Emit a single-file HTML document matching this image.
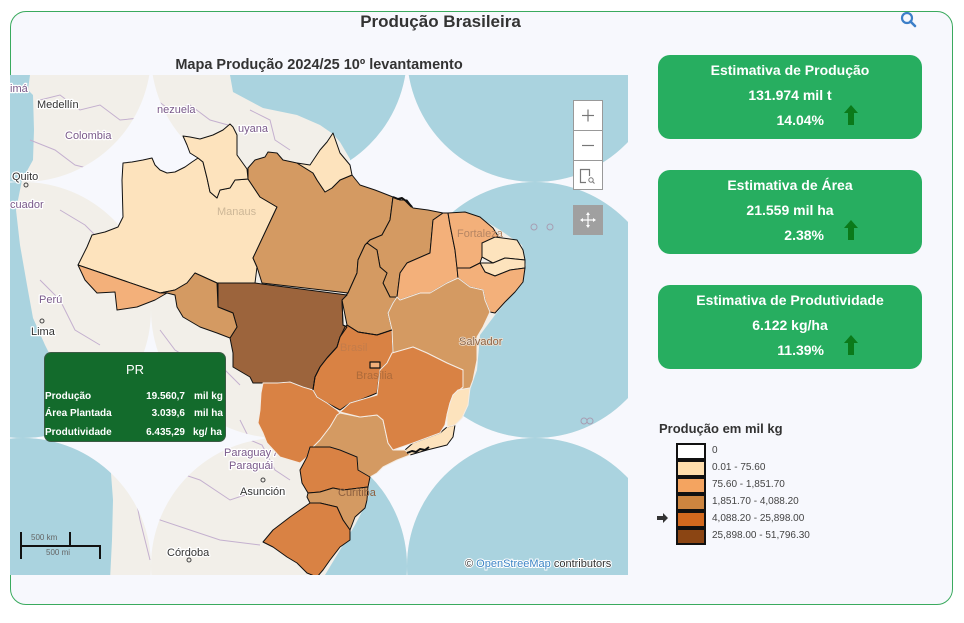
<!DOCTYPE html>
<html><head><meta charset="utf-8">
<style>
html,body{margin:0;padding:0;background:#fff;width:964px;height:623px;overflow:hidden;font-family:"Liberation Sans",sans-serif;}
.abs{position:absolute;}
#frame{position:absolute;left:10px;top:11px;width:941px;height:592px;border:1px solid #3aaa5e;border-radius:16px;background:#f7f8fd;}
.card{position:absolute;left:658px;width:264px;height:84px;background:#27ae60;border-radius:12px;color:#fff;font-weight:bold;font-size:14px;}
.card div{position:absolute;left:0;width:264px;text-align:center;line-height:18px;white-space:nowrap;}
.card .pct{left:0;width:166px;text-align:right;}
.card svg{position:absolute;left:185px;}
.lg{position:absolute;left:676px;width:26px;height:13px;border:2px solid #111;}
.lt{position:absolute;left:712px;font-size:10px;color:#444;line-height:12px;white-space:nowrap;}
.tt{position:absolute;font-size:10px;font-weight:bold;color:#fff;line-height:12px;white-space:nowrap;}
</style></head><body>
<div id="frame"></div>
<div class="abs" style="left:0;top:12px;width:881px;text-align:center;font-size:17px;font-weight:bold;color:#333;line-height:20px;">Produção Brasileira</div>
<svg class="abs" style="left:898px;top:10px" width="22" height="22" viewBox="0 0 22 22"><circle cx="9" cy="8" r="5" fill="none" stroke="#3c7fc8" stroke-width="2.2"/><line x1="12.5" y1="11.5" x2="17" y2="16" stroke="#3c7fc8" stroke-width="2.6" stroke-linecap="round"/></svg>
<div class="abs" style="left:0;top:56px;width:638px;text-align:center;font-size:14.5px;font-weight:bold;color:#333;line-height:18px;">Mapa Produção 2024/25 10º levantamento</div>

<svg class="abs" style="left:10px;top:75px" width="618" height="500" viewBox="10 75 618 500">
<defs>
<clipPath id="tiles">
<circle cx="23" cy="54" r="128"/><circle cx="279" cy="54" r="128"/><circle cx="535" cy="54" r="128"/>
<circle cx="23" cy="310" r="128"/><circle cx="279" cy="310" r="128"/><circle cx="535" cy="310" r="128"/>
<circle cx="23" cy="566" r="128"/><circle cx="279" cy="566" r="128"/><circle cx="535" cy="566" r="128"/>
</clipPath>
</defs>
<rect x="10" y="75" width="618" height="500" fill="#f7f8fd"/>
<g clip-path="url(#tiles)">
<rect x="10" y="75" width="618" height="500" fill="#f2efe9"/>
<polygon fill="#aad3df" points="230,70 230,75 233,92 263,108 297,115 320,125 333,134 340,142 350,159 352,175 360,186 375,191 393,197 443,213 480,218 500,230 522,245 526,265 520,285 495,315 480,335 477,370 470,390 455,425 445,445 410,455 385,465 370,478 368,500 355,525 340,550 322,580 640,580 640,70"/>
<polygon fill="#aad3df" points="5,70 30,75 28,90 33,95 34,130 33,160 22,180 16,210 20,245 27,285 33,318 45,345 60,375 80,405 98,432 110,460 113,500 112,540 110,580 5,580"/>
<g fill="none" stroke="#c4b0cf" stroke-width="1">
<polyline points="40,100 60,95 80,110 100,105 120,120 140,118"/>
<polyline points="30,140 55,150 75,165 95,170 120,160"/>
<polyline points="150,95 170,110 190,105 210,120 228,125"/>
<polyline points="60,210 85,225 100,240 95,260 110,275"/>
<polyline points="40,280 60,300 75,330 100,345"/>
<polyline points="160,330 175,350 200,365 225,370 240,385"/>
<polyline points="150,450 170,470 200,480 230,500 260,490"/>
<polyline points="140,500 160,520 190,530 220,540 260,545"/>
<polyline points="130,470 140,520 150,560"/>
<polyline points="250,110 270,120 275,140 290,150"/>
<polyline points="240,420 250,440 262,445 275,470 290,480"/>
</g>
<circle cx="534" cy="227" r="3" fill="none" stroke="#a79db2" stroke-width="1"/>
<circle cx="550" cy="227" r="3" fill="none" stroke="#a79db2" stroke-width="1"/>
<circle cx="584" cy="421" r="3" fill="none" stroke="#a79db2" stroke-width="1"/>
<circle cx="590" cy="421" r="3" fill="none" stroke="#a79db2" stroke-width="1"/>
</g>

<g font-family="Liberation Sans, sans-serif" font-size="11" stroke="#fff" stroke-width="2.5" paint-order="stroke" stroke-linejoin="round">
<text x="10" y="92" fill="#7a5a8a">imá</text>
<text x="37" y="108" fill="#333">Medellín</text>
<text x="157" y="113" fill="#7a5a8a">nezuela</text>
<text x="65" y="139" fill="#7a5a8a">Colombia</text>
<text x="238" y="132" fill="#7a5a8a">uyana</text>
<text x="12" y="180" fill="#333">Quito</text>
<text x="10" y="208" fill="#7a5a8a">cuador</text>
<text x="39" y="303" fill="#7a5a8a">Perú</text>
<text x="31" y="335" fill="#333">Lima</text>
<text x="224" y="456" fill="#7a5a8a">Paraguay /</text>
<text x="229" y="469" fill="#7a5a8a">Paraguái</text>
<text x="240" y="495" fill="#333">Asunción</text>
<text x="167" y="556" fill="#333">Córdoba</text>
</g>
<g fill="none" stroke="#444" stroke-width="1">
<circle cx="26" cy="185" r="2"/><circle cx="42" cy="321" r="2"/><circle cx="263" cy="480" r="2"/><circle cx="189" cy="560" r="2"/>
</g>

<g stroke="#111" stroke-width="1" stroke-linejoin="round">
<polygon fill="#fde3bd" points="123,163 132,162 143,160 152,158 155,165 160,170 167,173 175,172 185,167 192,162 198,158 203,162 207,178 210,192 217,198 220,190 230,188 235,180 248,179 260,197 277,207 253,258 257,267 255,283 217,283 195,273 187,283 175,290 160,293 78,265 87,247 92,235 105,232 118,227 123,217 122,180"/>
<polygon fill="#fde3bd" points="183,136 190,137 200,139 213,135 223,130 230,124 233,127 237,135 237,155 247,169 248,179 235,180 230,188 220,190 217,198 210,192 207,178 203,162 198,158 190,153 187,145"/>
<polygon fill="#d49a62" points="248,179 248,168 255,160 265,157 268,152 277,153 283,160 297,163 313,173 317,180 325,192 332,188 340,180 352,175 360,185 375,190 393,197 390,220 382,235 370,240 365,245 358,260 357,273 348,293 262,283 257,267 253,258 277,207 260,197"/>
<polygon fill="#fde3bd" points="297,163 310,165 320,150 327,142 333,133 340,153 350,165 352,175 340,180 332,188 325,192 317,180 313,173"/>
<polygon fill="#d49a62" points="393,197 400,200 407,200 413,208 428,210 443,213 433,220 430,253 407,263 400,273 397,297 390,297 383,283 387,273 380,267 377,250 367,243 370,240 382,235 390,220"/>
<polygon fill="#d49a62" points="367,243 377,250 380,267 387,273 383,283 390,297 397,297 393,303 388,313 392,330 377,335 358,332 347,325 342,300 348,293 357,273 358,260 365,245"/>
<polygon fill="#f3b07a" points="443,213 448,213 450,225 455,250 457,267 458,278 447,283 430,293 420,293 400,300 397,297 400,273 407,263 430,253 433,220"/>
<polygon fill="#f3b07a" points="448,213 465,212 480,217 493,228 498,236 490,244 482,243 482,257 480,263 470,268 457,268 455,250 450,225"/>
<polygon fill="#fde3bd" points="482,243 495,237 517,240 523,250 525,260 505,258 493,263 482,257"/>
<polygon fill="#fde3bd" points="480,263 493,263 505,258 525,260 525,268 510,270 495,276 485,272"/>
<polygon fill="#f3b07a" points="457,268 470,268 480,263 485,272 495,276 510,270 525,268 523,282 515,292 505,302 495,313 490,312 485,300 483,290 470,287 458,278"/>
<polygon fill="#9c643c" points="218,283 255,283 262,284 347,295 342,300 343,325 347,327 340,337 337,347 327,358 320,367 315,377 313,390 303,387 290,382 277,383 263,383 253,383 250,377 233,367 233,353 230,338 237,327 233,313 218,307"/>
<polygon fill="#d49a62" points="160,293 175,290 187,283 195,273 217,283 218,307 233,313 237,327 230,338 217,333 200,327 183,317 177,307 175,295 167,293"/>
<polygon fill="#f3b07a" points="78,265 160,293 167,293 155,300 137,307 117,310 115,292 97,293 85,280"/>
<polygon fill="#d98244" points="347,325 358,332 377,335 392,330 393,353 387,363 380,370 377,393 360,400 350,403 340,410 327,403 317,397 313,390 315,377 320,367 327,358 337,347 340,337 345,327"/>
<polygon fill="#fde3bd" points="413,443 440,433 447,427 455,425 453,437 447,445 427,450 410,455 405,450"/>
</g>
<g stroke="#f4ece4" stroke-width="1" stroke-linejoin="round">
<polygon fill="#d49a62" points="397,297 400,300 420,293 430,293 447,283 458,278 470,287 483,290 485,300 490,312 483,327 477,337 477,360 473,380 470,388 458,390 453,395 463,387 463,370 447,363 427,353 413,347 393,353 392,330 388,313 393,303"/>
<polygon fill="#d98244" points="263,383 277,383 290,382 303,387 313,390 317,397 327,403 337,410 340,413 330,427 320,440 313,447 310,447 307,457 300,463 290,460 280,457 267,443 263,433 258,423 260,410 261,393"/>
<polygon fill="#d49a62" points="340,413 360,417 377,415 383,420 388,443 393,450 405,450 410,455 397,460 383,467 377,473 370,477 358,470 357,457 340,450 330,447 313,447 320,440 330,427 337,415"/>
<polygon fill="#d98244" points="340,412 350,403 377,395 380,370 387,363 392,353 413,347 427,353 447,363 463,370 463,387 453,395 450,403 447,415 445,425 440,433 413,443 393,450 388,443 383,420 377,415 360,417"/>
<polygon fill="#fde3bd" points="458,390 470,388 468,405 462,418 455,425 447,427 447,415 450,403 453,395"/>
</g>
<g stroke="#111" stroke-width="1" stroke-linejoin="round">
<polygon fill="#d98244" points="310,447 313,447 330,447 340,450 357,457 358,470 370,477 368,487 343,490 333,488 320,492 308,493 302,483 300,470 307,457"/>
<polygon fill="#d49a62" points="308,493 320,492 333,488 343,490 368,487 367,500 365,508 355,517 350,530 343,520 337,507 320,503 310,503 307,497"/>
<polygon fill="#d98244" points="310,503 320,503 337,507 343,520 350,530 350,540 340,547 330,560 323,570 317,577 307,573 297,563 287,557 273,547 263,542 273,530 290,517 300,510"/>
<rect x="370" y="362" width="10" height="6" fill="#f3b07a" stroke-width="1.2"/>
<polyline fill="none" stroke-width="2" points="393,197 398,199 402,198 406,201 409,204 412,207"/>
<polyline fill="none" stroke-width="2" points="407,453 412,451 416,452 420,449 425,450 429,447"/>
<polyline fill="none" stroke-width="1" points="347,325 358,332 377,335 392,330"/>
<polyline fill="none" stroke-width="1" points="342,300 343,325 347,327 340,337 337,347 327,358 320,367 315,377 313,390"/>
</g>

<g font-family="Liberation Sans, sans-serif" font-size="11">
<text x="217" y="215" fill="#cdb797">Manaus</text>
<text x="457" y="237" fill="#b58563">Fortaleza</text>
<text x="459" y="345" fill="#8b6548" stroke="#f0e0d0" stroke-width="1.5" paint-order="stroke">Salvador</text>
<text x="340" y="351" fill="#c47c4a">Brasil</text>
<text x="356" y="379" fill="#ad6a3a">Brasília</text>
<text x="338" y="496" fill="#8e6040">Curitiba</text>
</g>

<g stroke="#111" stroke-width="2" fill="none">
<line x1="21" y1="532" x2="21" y2="559"/>
<line x1="20" y1="546" x2="101" y2="546"/>
<line x1="70" y1="532" x2="70" y2="546"/>
<line x1="100" y1="546" x2="100" y2="559"/>
</g>
<text x="31" y="540" font-family="Liberation Sans, sans-serif" font-size="8" fill="#666">500 km</text>
<text x="46" y="555" font-family="Liberation Sans, sans-serif" font-size="8" fill="#666">500 mi</text>
<text x="465" y="567" font-family="Liberation Sans, sans-serif" font-size="11" fill="#333" stroke="#fff" stroke-width="2" paint-order="stroke">© <tspan fill="#3d85c6">OpenStreeMap</tspan> contributors</text>

<rect x="573.5" y="100.5" width="29" height="89" fill="#fff" stroke="#999"/>
<line x1="573.5" y1="130.5" x2="602.5" y2="130.5" stroke="#999"/>
<line x1="573.5" y1="160.5" x2="602.5" y2="160.5" stroke="#999"/>
<g stroke="#777" stroke-width="1.2">
<line x1="582" y1="115.5" x2="594" y2="115.5"/><line x1="588" y1="109.5" x2="588" y2="121.5"/>
<line x1="582" y1="145.5" x2="594" y2="145.5"/>
</g>
<path d="M586 182.5 H580.5 V169.5 H589.5 V176" fill="none" stroke="#777" stroke-width="1.2"/>
<circle cx="591" cy="180" r="2.2" fill="none" stroke="#777" stroke-width="1"/>
<line x1="592.6" y1="181.6" x2="594.5" y2="183.5" stroke="#777" stroke-width="1"/>
<rect x="573" y="205" width="30" height="30" fill="#a0a0a0"/>
<g stroke="#fff" stroke-width="1.2" fill="#fff">
<line x1="582" y1="220" x2="594" y2="220"/><line x1="588" y1="214" x2="588" y2="226"/>
<polygon points="588,212 586,215 590,215" stroke="none"/><polygon points="588,228 586,225 590,225" stroke="none"/>
<polygon points="580,220 583,218 583,222" stroke="none"/><polygon points="596,220 593,218 593,222" stroke="none"/>
</g>
</svg>

<div class="abs" style="left:45px;top:353px;width:180px;height:88px;background:#136b2c;border-radius:6px;box-shadow:0 0 0 1px #3b5a44;"></div>
<div class="abs" style="left:45px;top:362px;width:180px;text-align:center;color:#fff;font-size:13px;line-height:16px;">PR</div>
<div class="tt" style="left:45px;top:391px;">Produção</div>
<div class="tt" style="left:45px;top:408px;">Área Plantada</div>
<div class="tt" style="left:45px;top:427px;">Produtividade</div>
<div class="tt" style="left:105px;width:80px;text-align:right;top:391px;">19.560,7</div>
<div class="tt" style="left:105px;width:80px;text-align:right;top:408px;">3.039,6</div>
<div class="tt" style="left:105px;width:80px;text-align:right;top:427px;">6.435,29</div>
<div class="tt" style="left:194px;top:391px;">mil kg</div>
<div class="tt" style="left:194px;top:408px;">mil ha</div>
<div class="tt" style="left:193px;top:427px;">kg/ ha</div>

<div class="card" style="top:55px;">
<div style="top:6px;">Estimativa de Produção</div>
<div style="top:31px;">131.974 mil t</div>
<div class="pct" style="top:56px;">14.04%</div>
<svg style="top:50px" width="16" height="21" viewBox="0 0 16 21"><polygon points="8,0 15,8 11,8 11,20 5,20 5,8 1,8" fill="#0b7a1a"/></svg>
</div>
<div class="card" style="top:170px;">
<div style="top:6px;">Estimativa de Área</div>
<div style="top:31px;">21.559 mil ha</div>
<div class="pct" style="top:56px;">2.38%</div>
<svg style="top:50px" width="16" height="21" viewBox="0 0 16 21"><polygon points="8,0 15,8 11,8 11,20 5,20 5,8 1,8" fill="#0b7a1a"/></svg>
</div>
<div class="card" style="top:285px;">
<div style="top:6px;">Estimativa de Produtividade</div>
<div style="top:31px;">6.122 kg/ha</div>
<div class="pct" style="top:56px;">11.39%</div>
<svg style="top:50px" width="16" height="21" viewBox="0 0 16 21"><polygon points="8,0 15,8 11,8 11,20 5,20 5,8 1,8" fill="#0b7a1a"/></svg>
</div>

<div class="abs" style="left:659px;top:420px;font-size:13px;font-weight:bold;color:#333;line-height:18px;white-space:nowrap;">Produção em mil kg</div>
<div class="lg" style="top:443px;background:#ffffff;"></div>
<div class="lg" style="top:460px;background:#ffdead;"></div>
<div class="lg" style="top:477px;background:#f4a460;"></div>
<div class="lg" style="top:494px;background:#cd853f;"></div>
<div class="lg" style="top:511px;background:#d2691e;"></div>
<div class="lg" style="top:528px;background:#8b4513;"></div>
<div class="lt" style="top:445px;">0</div>
<div class="lt" style="top:462px;">0.01 - 75.60</div>
<div class="lt" style="top:479px;">75.60 - 1,851.70</div>
<div class="lt" style="top:496px;">1,851.70 - 4,088.20</div>
<div class="lt" style="top:513px;">4,088.20 - 25,898.00</div>
<div class="lt" style="top:530px;">25,898.00 - 51,796.30</div>
<svg class="abs" style="left:657px;top:513px" width="12" height="10" viewBox="0 0 12 10"><polygon points="0,3 6,3 6,0 11,5 6,10 6,7 0,7" fill="#333"/></svg>
</body></html>
